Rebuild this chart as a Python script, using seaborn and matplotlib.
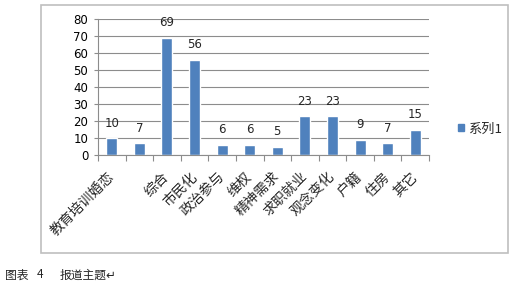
import matplotlib
matplotlib.use("Agg")
import matplotlib.pyplot as plt
import seaborn as sns
import pandas as pd
from matplotlib.patches import Rectangle, Patch

categories = ["教育培训婚恋", " ", "综合", "市民化", "政治参与", "维权", "精神需求",
              "求职就业", "观念变化", "户籍", "住房", "其它"]
values = [10, 7, 69, 56, 6, 6, 5, 23, 23, 9, 7, 15]
series_name = "系列1"
y_ticks = [0, 10, 20, 30, 40, 50, 60, 70, 80]
caption_parts = ["图表", "4", "报道主题↵"]

sns.set_theme(style="white")
plt.rcParams['font.family'] = ['Noto Sans CJK SC', 'DejaVu Sans']

W, H = 513, 287
fig = plt.figure(figsize=(W / 100, H / 100), dpi=100)
ax = fig.add_axes([98 / W, 1 - 155 / H, (429 - 98) / W, (155 - 19) / H])

df = pd.DataFrame({"cat": categories, "val": values})
sns.barplot(data=df, x="cat", y="val", color="#4F81BD", saturation=1,
            width=0.4, ax=ax, order=categories)

ax.set_xlim(-0.5, len(categories) - 0.5)
ax.set_ylim(0, 80)
ax.set_yticks(y_ticks)
ax.set_yticklabels([str(t) for t in y_ticks], fontsize=8.5, color="#000000",
                   family=['DejaVu Sans'])
ax.yaxis.grid(True, color="#8C8C8C", linewidth=0.8)
ax.set_axisbelow(True)
ax.set_xlabel("")
ax.set_ylabel("")

for s in ["top", "right"]:
    ax.spines[s].set_visible(False)
for s in ["left", "bottom"]:
    ax.spines[s].set_color("#8C8C8C")
    ax.spines[s].set_linewidth(0.8)

ax.tick_params(axis="y", which="major", direction="out", length=3, width=0.8,
               color="#8C8C8C", pad=4, left=True)
ax.set_xticks(range(len(categories)))
ax.set_xticklabels(categories, rotation=45, ha="right", va="center",
                   rotation_mode="anchor", fontsize=10)
ax.tick_params(axis="x", which="major", length=0, pad=14)
ax.set_xticks([i + 0.5 for i in range(-1, len(categories))], minor=True)
ax.tick_params(axis="x", which="minor", direction="out", length=4, width=0.8,
               color="#8C8C8C", bottom=True)

for i, v in enumerate(values):
    ax.annotate(str(v), (i, v), xytext=(0, 6), textcoords="offset points",
                ha="center", va="bottom", fontsize=8.5, family=['DejaVu Sans'])

# chart border
fig.patches.append(Rectangle((41 / W, 1 - 253 / H), (508 - 41) / W, (253 - 5) / H,
                             transform=fig.transFigure, fill=False,
                             edgecolor="#BFBFBF", linewidth=1.2))

# legend
fig.legend(handles=[Patch(color="#4F81BD", label=series_name)],
           loc="center left", bbox_to_anchor=(446 / W, 1 - 129 / H),
           frameon=False, handlelength=0.45, handleheight=0.45,
           handletextpad=0.3, fontsize=9.5)

for xp, part in zip([5, 37, 60], caption_parts):
    fig.text(xp / W, 1 - 275 / H, part, fontsize=8.5, va="center", ha="left")

fig.savefig("out.png", dpi=100)
